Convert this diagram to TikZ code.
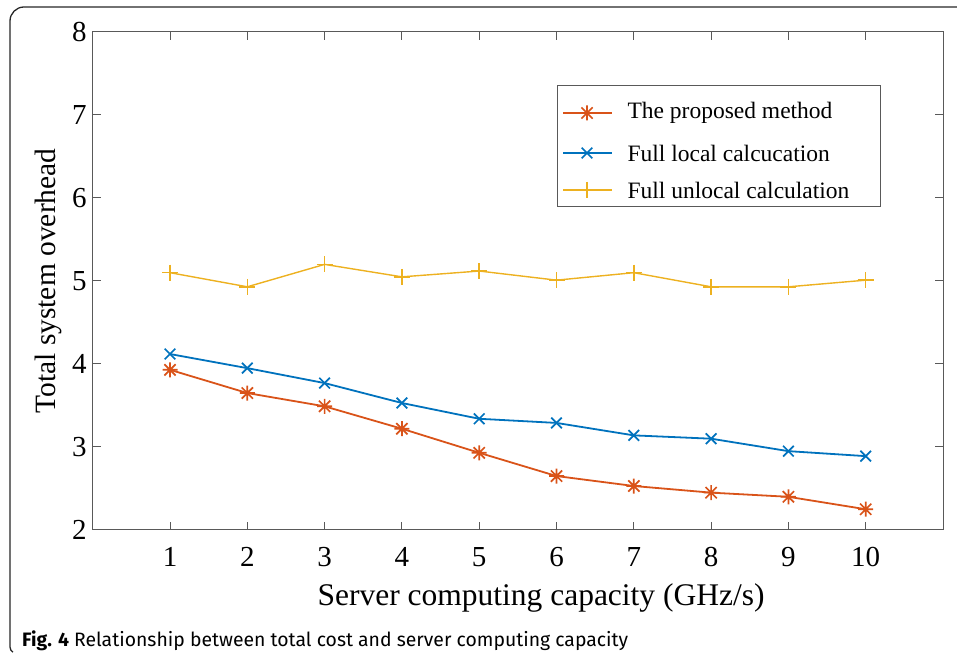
\documentclass[tikz,border=0pt]{standalone}
\usepackage{fontspec}
\setmainfont{Liberation Serif}
\newfontfamily\capfont{Fira Sans}
\usetikzlibrary{plotmarks}
\definecolor{morange}{rgb}{0.85,0.325,0.098}
\definecolor{mblue}{rgb}{0,0.447,0.741}
\definecolor{myellow}{rgb}{0.929,0.694,0.125}
\definecolor{axcol}{gray}{0.35}
\pgfdeclareplotmark{mstar}{%
  \pgfpathmoveto{\pgfqpoint{0pt}{\pgfplotmarksize}}\pgfpathlineto{\pgfqpoint{0pt}{-\pgfplotmarksize}}%
  \pgfpathmoveto{\pgfqpoint{-0.75\pgfplotmarksize}{0.75\pgfplotmarksize}}\pgfpathlineto{\pgfqpoint{0.75\pgfplotmarksize}{-0.75\pgfplotmarksize}}%
  \pgfpathmoveto{\pgfqpoint{-0.75\pgfplotmarksize}{-0.75\pgfplotmarksize}}\pgfpathlineto{\pgfqpoint{0.75\pgfplotmarksize}{0.75\pgfplotmarksize}}%
  \pgfpathmoveto{\pgfqpoint{-\pgfplotmarksize}{0pt}}\pgfpathlineto{\pgfqpoint{\pgfplotmarksize}{0pt}}%
  \pgfusepathqstroke}
\tikzset{
  tick/.style={font=\fontsize{29}{29}\selectfont},
  axlabel/.style={font=\fontsize{31.5}{31.5}\selectfont},
  ylabstyle/.style={font=\fontsize{29.5}{29.5}\selectfont},
  legtext/.style={font=\fontsize{23.5}{23.5}\selectfont, anchor=west},
  sorange/.style={morange, line width=1.8pt, mark=mstar, mark size=7.5pt, mark options={solid, line width=1.7pt}},
  sblue/.style={mblue, line width=1.8pt, mark=x, mark size=7.5pt, mark options={solid, line width=1.7pt}},
  syellow/.style={myellow, line width=1.4pt, mark=+, mark size=8pt, mark options={solid, line width=1.5pt}},
}
\begin{document}
\begin{tikzpicture}[x=1pt,y=1pt]
\useasboundingbox (0,0) rectangle (957,655);
% outer frame
\draw[line width=1.3pt, black!85] (957,648) -- (24,648) arc[start angle=90,end angle=180,radius=14] -- (10,8) arc[start angle=180,end angle=240,radius=6];
% caption
\node[anchor=base west, inner sep=0pt, font=\capfont\fontsize{19.4}{19.4}\selectfont] (cap) at (22,9) {\textbf{Fig. 4} Relationship between total cost and server computing capacity};
\begin{scope}[shift={(92.7,-41)}, x=77.3pt, y=83pt]
  % axes box
  \draw[axcol, line width=1pt] (0,2) rectangle (11,8);
  \foreach \i in {1,...,10} {
    \draw[axcol, line width=1pt] (\i,2) -- ++(0,8pt);
    \draw[axcol, line width=1pt] (\i,8) -- ++(0,-8pt);
    \node[tick] (xt\i) at (\i,2) [yshift=-27pt] {\i};
  }
  \foreach \j in {2,...,8} {
    \draw[axcol, line width=1pt] (0,\j) -- ++(8pt,0);
    \draw[axcol, line width=1pt] (11,\j) -- ++(-8pt,0);
    \node[tick, anchor=east, inner sep=0pt] (yt\j) at (0,\j) [xshift=-6pt] {\j};
  }
  \node[axlabel] (xlab) at (5.8,2) [yshift=-68pt] {Server computing capacity (GHz/s)};
  \node[ylabstyle, rotate=90] (ylab) at (-0.575,5) {Total system overhead};
  % data
  \draw[syellow] plot coordinates {(1,5.10) (2,4.93) (3,5.20) (4,5.05) (5,5.12) (6,5.01) (7,5.10) (8,4.93) (9,4.93) (10,5.01)};
  \draw[sblue] plot coordinates {(1,4.12) (2,3.95) (3,3.77) (4,3.53) (5,3.34) (6,3.29) (7,3.14) (8,3.10) (9,2.95) (10,2.89)};
  \draw[sorange] plot coordinates {(1,3.93) (2,3.65) (3,3.49) (4,3.22) (5,2.93) (6,2.65) (7,2.53) (8,2.45) (9,2.40) (10,2.25)};
\end{scope}
% legend
\draw[axcol, line width=1pt, fill=white] (557,448) rectangle (880,569);
\draw[sorange, mark=none] (563,542) -- (612,542);
\draw[sorange] plot coordinates {(587,542)};
\node[legtext] (l1) at (624,542) {The proposed method};
\draw[sblue, mark=none] (563,502) -- (612,502);
\draw[sblue] plot coordinates {(587,502)};
\node[legtext] (l2) at (624,502) {Full local calcucation};
\draw[syellow, mark=none] (563,465) -- (612,465);
\draw[syellow] plot coordinates {(587,465)};
\node[legtext] (l3) at (624,465) {Full unlocal calculation};
\end{tikzpicture}
\end{document}
